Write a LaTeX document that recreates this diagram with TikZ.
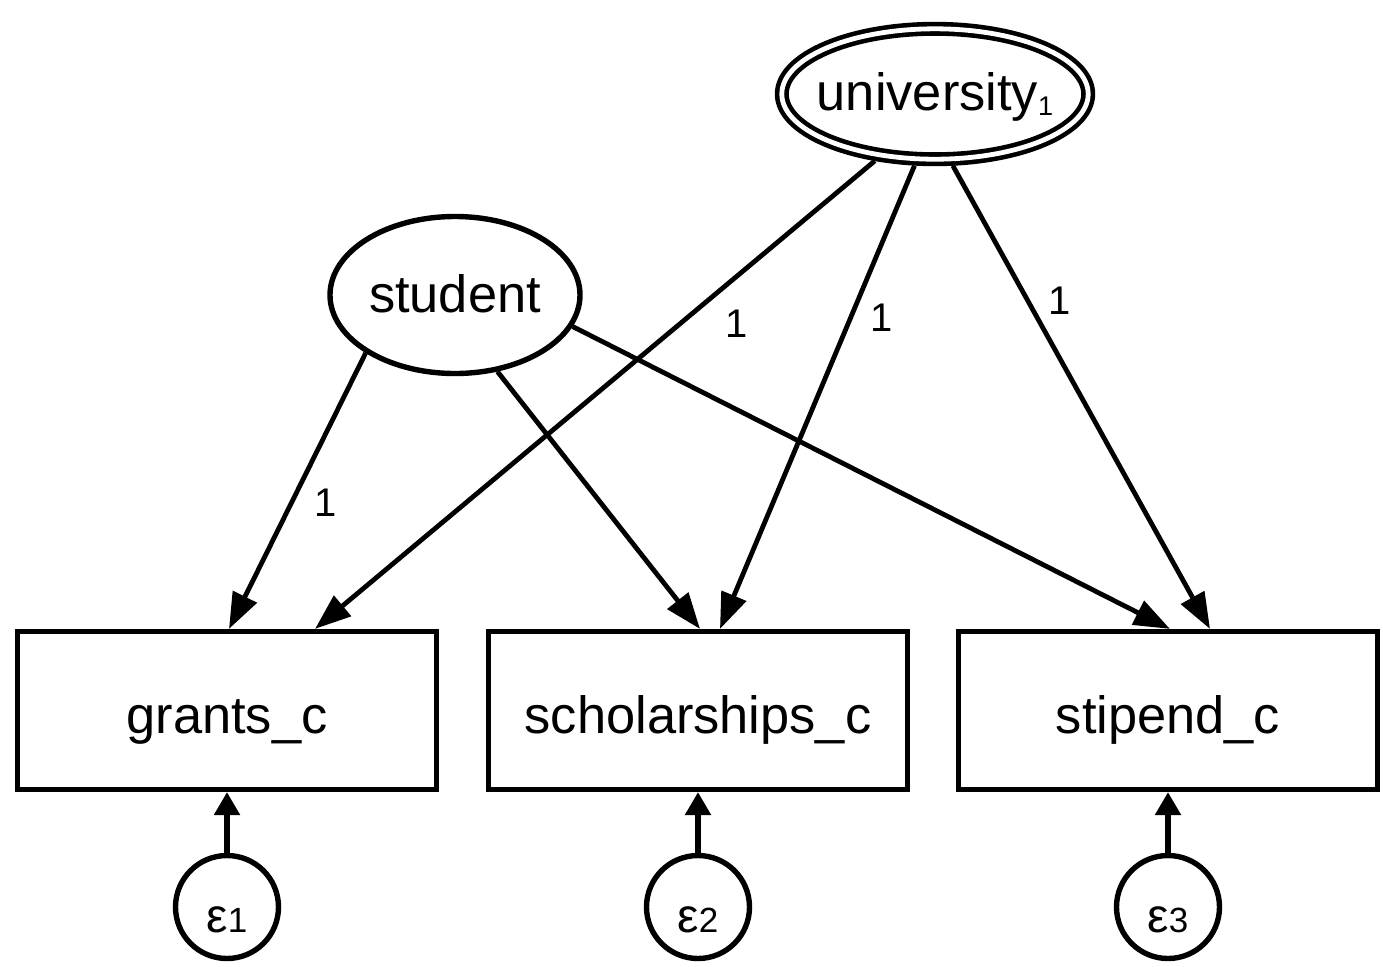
\documentclass[tikz,border=0pt]{standalone}
\usepackage{fontspec}
\setmainfont{Liberation Sans}
\usetikzlibrary{arrows.meta,shapes.geometric}
\begin{document}
\begin{tikzpicture}[x=0.5pt,y=-0.5pt,
  obs/.style={draw, line width=2.7pt, rectangle, minimum width=209.4pt,
    minimum height=78.9pt, inner sep=0pt, font=\fontsize{26.2}{30}\selectfont,
    text height=23.5pt, text depth=1pt},
  lat/.style={draw, line width=2.7pt, ellipse, inner sep=0pt,
    font=\fontsize{26.2}{30}\selectfont},
  err/.style={draw, line width=2.7pt, circle, minimum size=51.5pt,
    inner sep=0pt, text height=26pt, text depth=1pt},
  path/.style={line width=2.4pt, -{Triangle[length=18pt,width=13pt]}},
  errpath/.style={line width=2.7pt, -{Triangle[length=11.5pt,width=12.5pt]}},
  coef/.style={font=\fontsize{20}{24}\selectfont, inner sep=0pt},
]
\useasboundingbox (0,0) rectangle (1383,966);

% latent variables
\node[lat, minimum width=125pt, minimum height=78.5pt,
      text height=18.5pt, text depth=1.5pt] (student) at (455,295) {student};
\node[lat, double, double distance=2.4pt, line width=2.3pt, outer sep=3.5pt,
      minimum width=153.2pt, minimum height=65.2pt,
      text height=18pt, text depth=2pt] (univ) at (935,94)
  {\makebox[0pt]{university{\fontsize{13.5}{15}\selectfont\raisebox{-2.5pt}{1}}}};

% observed variables
\node[obs] (grants) at (227,710.5) {grants\_c};
\node[obs] (schol)  at (698,710.5) {scholarships\_c};
\node[obs] (stip)   at (1168,710.5) {stipend\_c};

% error terms
\newcommand{\errlabel}[1]{{\fontsize{24}{28}\selectfont ε}{\fontsize{17.5}{20}\selectfont #1}}
\node[err] (e1) at (227,907) {\errlabel{1}};
\node[err] (e2) at (698,907) {\errlabel{2}};
\node[err] (e3) at (1168,907) {\errlabel{3}};

% loadings of student
\draw[path] (student.213) -- ([xshift=1pt]grants.north)
  node[coef, pos=0.493, xshift=13.5pt, yshift=-6.75pt] {1};
\draw[path] (student.299) -- ([xshift=1pt]schol.north);
\draw[path] (student.345) -- ([xshift=1pt]stip.north);

% loadings of university
\draw[path] (univ.228) -- ([xshift=44pt]grants.north)
  node[coef, pos=0.288, xshift=11.6pt, yshift=-14pt] {1};
\draw[path] (univ.254) -- ([xshift=11pt]schol.north)
  node[coef, pos=0.305, xshift=13.3pt, yshift=-5.5pt] {1};
\draw[path] (univ.284.4) -- ([xshift=21pt]stip.north)
  node[coef, pos=0.32, xshift=12pt, yshift=6.6pt] {1};

% error paths
\draw[errpath] (e1) -- (grants);
\draw[errpath] (e2) -- (schol);
\draw[errpath] (e3) -- (stip);
\end{tikzpicture}
\end{document}
